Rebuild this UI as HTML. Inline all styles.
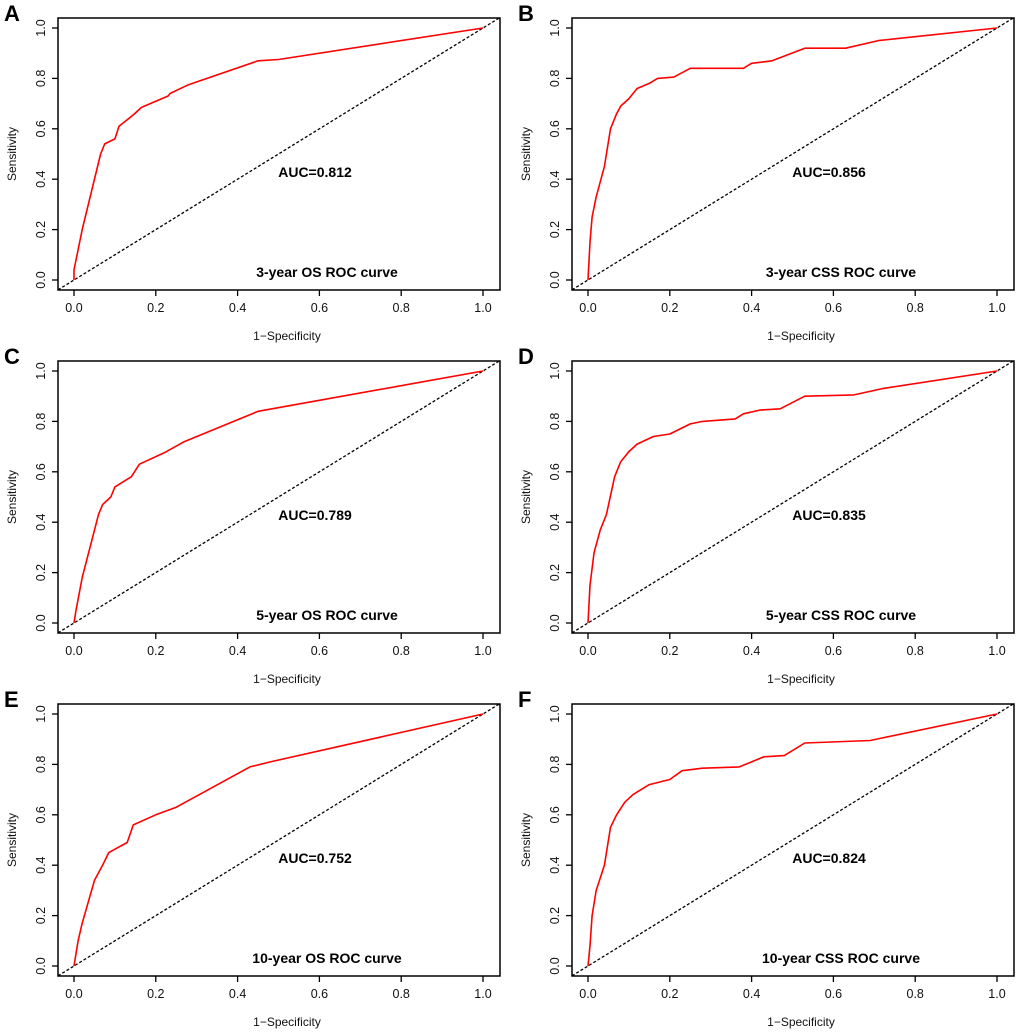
<!DOCTYPE html>
<html><head><meta charset="utf-8"><style>
body{margin:0;background:#fff}
svg{display:block}
text{font-family:"Liberation Sans",Arial,sans-serif}
</style></head><body>
<svg id="fig" width="1020" height="1032" xmlns="http://www.w3.org/2000/svg"></svg>
<script>
const panelLetters=["A","B","C","D","E","F"];
const panelTitles=["3-year OS ROC curve","3-year CSS ROC curve","5-year OS ROC curve","5-year CSS ROC curve","10-year OS ROC curve","10-year CSS ROC curve"];
const aucLabels=["AUC=0.812","AUC=0.856","AUC=0.789","AUC=0.835","AUC=0.752","AUC=0.824"];
const tickValues=[0,0.2,0.4,0.6,0.8,1.0];
const tickLabels=["0.0","0.2","0.4","0.6","0.8","1.0"];
const fprA=[0,0,0.02,0.065,0.075,0.1,0.11,0.145,0.165,0.23,0.235,0.28,0.45,0.5,1];
const tprA=[0,0.04,0.2,0.5,0.54,0.56,0.61,0.655,0.685,0.73,0.74,0.775,0.87,0.875,1];
const fprB=[0,0.005,0.01,0.02,0.04,0.055,0.07,0.08,0.1,0.12,0.15,0.17,0.21,0.25,0.38,0.4,0.45,0.53,0.63,0.71,1];
const tprB=[0,0.15,0.25,0.33,0.45,0.6,0.66,0.69,0.72,0.76,0.78,0.8,0.805,0.84,0.84,0.86,0.87,0.92,0.92,0.95,1];
const fprC=[0,0.005,0.02,0.06,0.07,0.09,0.1,0.14,0.16,0.22,0.27,0.45,1];
const tprC=[0,0.05,0.18,0.43,0.47,0.5,0.54,0.58,0.63,0.675,0.72,0.84,1];
const fprD=[0,0.005,0.015,0.03,0.045,0.065,0.08,0.1,0.12,0.16,0.2,0.25,0.28,0.36,0.38,0.42,0.47,0.53,0.65,0.72,1];
const tprD=[0,0.15,0.28,0.37,0.43,0.58,0.64,0.68,0.71,0.74,0.75,0.79,0.8,0.81,0.83,0.845,0.85,0.9,0.905,0.93,1];
const fprE=[0,0.01,0.02,0.05,0.07,0.085,0.13,0.145,0.2,0.25,0.43,0.48,1];
const tprE=[0,0.1,0.17,0.34,0.4,0.45,0.49,0.56,0.6,0.63,0.79,0.81,1];
const fprF=[0,0.005,0.01,0.02,0.04,0.055,0.07,0.09,0.11,0.15,0.2,0.23,0.28,0.37,0.4,0.43,0.48,0.53,0.69,1];
const tprF=[0,0.08,0.2,0.3,0.4,0.55,0.6,0.65,0.68,0.72,0.74,0.775,0.785,0.79,0.81,0.83,0.835,0.885,0.895,1];
const fprs=[fprA,fprB,fprC,fprD,fprE,fprF];
const tprs=[tprA,tprB,tprC,tprD,tprE,tprF];

const NS="http://www.w3.org/2000/svg";
const svg=document.getElementById('fig');
function mk(tag,attrs,parent){const e=document.createElementNS(NS,tag);for(const k in attrs)e.setAttribute(k,attrs[k]);parent.appendChild(e);return e;}
for(let p=0;p<6;p++){
  const ox=(p%2)*514, oy=Math.floor(p/2)*343;
  const g=mk('g',{transform:`translate(${ox},${oy})`},svg);
  
  
  const sx=v=>74+409*v, sy=v=>280-252*v;
  const box=mk('rect',{x:58,y:18,width:442,height:272,fill:'none',stroke:'#000','stroke-width':1.5},g);
  
  
  tickValues.forEach((v,i)=>{
    mk('line',{x1:sx(v),x2:sx(v),y1:290,y2:296,stroke:'#000','stroke-width':1.3},g);
    const tx=mk('text',{x:sx(v),y:312,'font-size':12.5,'text-anchor':'middle',fill:'#111'},g);
    tx.textContent=tickLabels[i];
    
    
    mk('line',{x1:52,x2:58,y1:sy(v),y2:sy(v),stroke:'#000','stroke-width':1.3},g);
    const ty=mk('text',{x:0,y:0,'font-size':12.5,'text-anchor':'middle',fill:'#111',transform:`translate(45,${sy(v)}) rotate(-90)`},g);
    ty.textContent=tickLabels[i];
    
    
  });
  const xl=mk('text',{x:287,y:340,'font-size':12,'text-anchor':'middle',fill:'#111'},g);
  xl.textContent='1\u2212Specificity';
  
  
  const yl=mk('text',{x:0,y:0,'font-size':12,'text-anchor':'middle',fill:'#111',transform:'translate(16,154) rotate(-90)'},g);
  yl.textContent='Sensitivity';
  
  
  const dl=mk('line',{x1:58,y1:sy((58-74)/409),x2:500,y2:sy((500-74)/409),stroke:'#000','stroke-width':1.3,'stroke-dasharray':'3,2'},g);
  
  
  const pts=fprs[p].map((f,i)=>sx(f).toFixed(1)+','+sy(tprs[p][i]).toFixed(1)).join(' ');
  const pl=mk('polyline',{points:pts,fill:'none',stroke:'#f00','stroke-width':1.6,'stroke-linejoin':'round'},g);
  
  
  const au=mk('text',{x:315,y:177,'font-size':14,'font-weight':'bold','text-anchor':'middle',fill:'#000'},g);
  au.textContent=aucLabels[p];
  
  
  const ti=mk('text',{x:327,y:277,'font-size':14,'font-weight':'bold','text-anchor':'middle',fill:'#000'},g);
  ti.textContent=panelTitles[p];
  
  
  const lt=mk('text',{x:4,y:21,'font-size':22,'font-weight':'bold',fill:'#000'},g);
  lt.textContent=panelLetters[p];
  
  
}
</script>
</body></html>
